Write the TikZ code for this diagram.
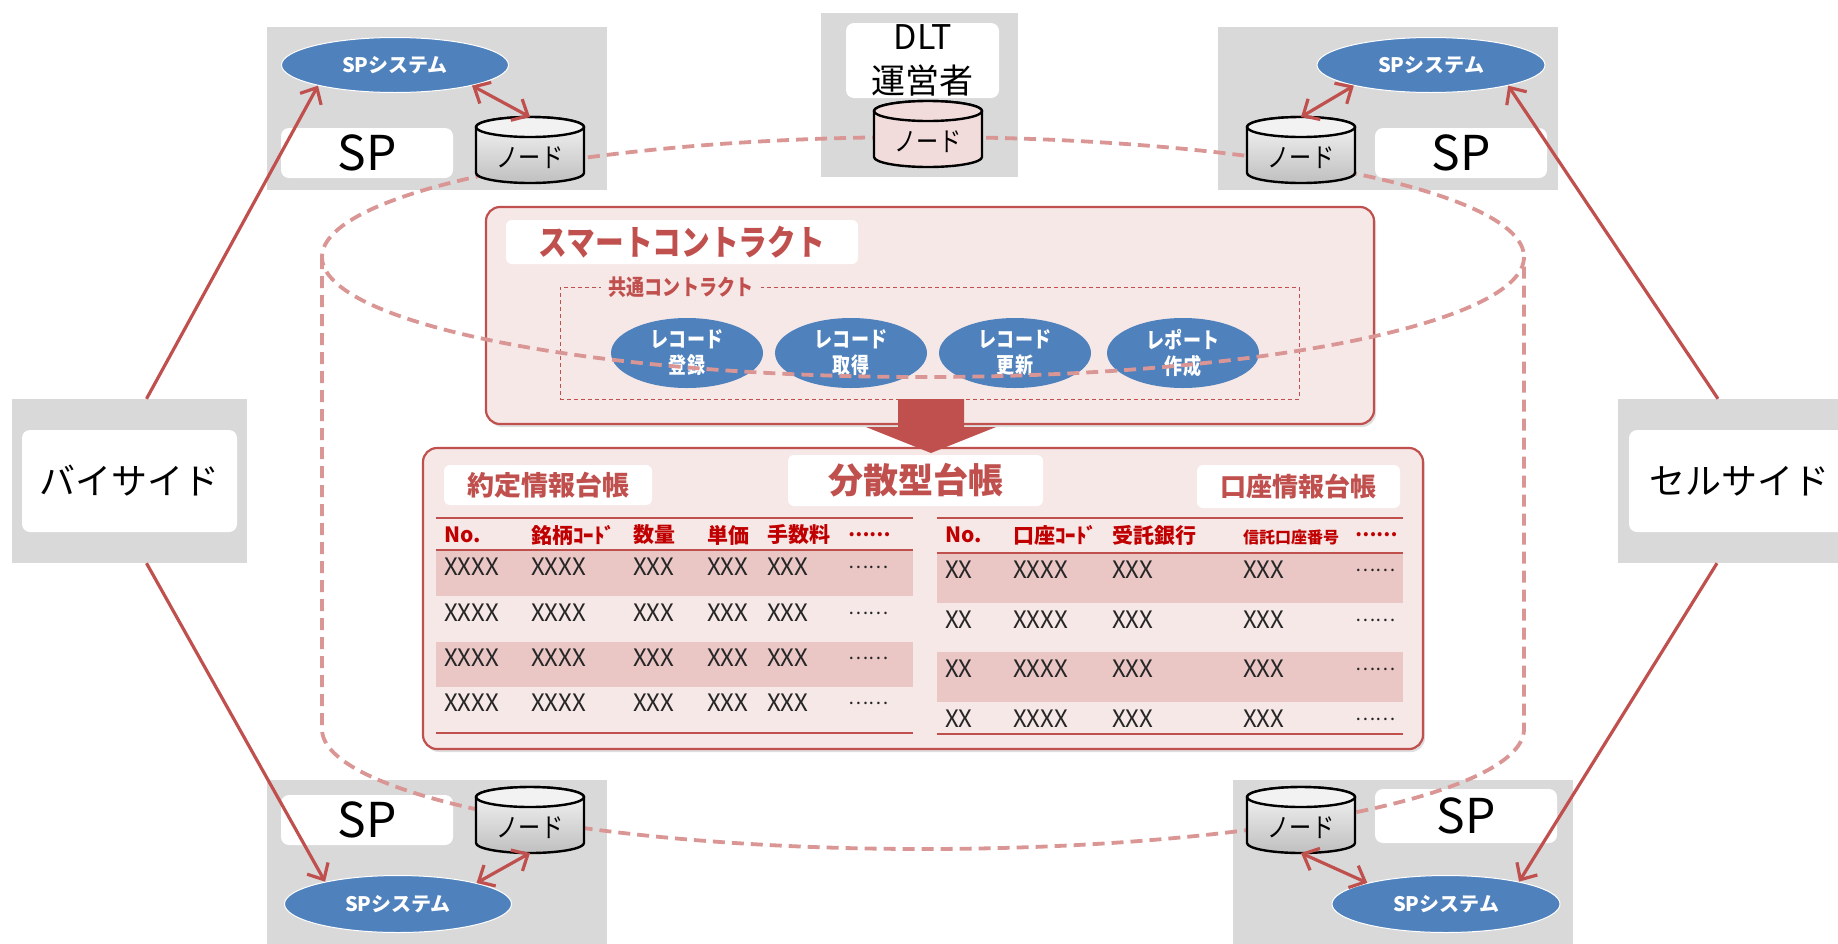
\documentclass[tikz,border=0pt]{standalone}
\usepackage{fontspec}
\setmainfont{Noto Sans CJK JP}
\newfontfamily\cjn{Noto Sans CJK JP}[FakeStretch=0.82]
\usetikzlibrary{arrows.meta,shapes.geometric,shadows}
\definecolor{redA}{HTML}{C0504D}
\definecolor{redH}{HTML}{C00000}
\definecolor{dashc}{HTML}{D99694}
\definecolor{blueA}{HTML}{4F81BD}
\definecolor{grayA}{HTML}{D9D9D9}
\definecolor{pinkbg}{HTML}{F7E8E8}
\definecolor{pinkrow}{HTML}{EAC6C5}
\definecolor{pinknode}{HTML}{F2DCDB}
\newcommand\fsz[2]{\fontsize{#1pt}{#2pt}\selectfont}
% name, cx, top, body style, top face colour, text node name
\newcommand\dbcyl[6]{%
  \path[#4,draw=black,line width=2.4pt] (#2-54,#3+10) -- (#2-54,#3+56)
     arc[start angle=180,end angle=0,x radius=54,y radius=10] -- (#2+54,#3+10)
     arc[start angle=0,end angle=-180,x radius=54,y radius=10] -- cycle;
  \path[fill=#5,draw=black,line width=2.4pt] (#2,#3+10) ellipse[x radius=54,y radius=10];
  \node[inner sep=0,outer sep=0,minimum width=108pt,minimum height=66pt] (#1) at (#2,#3+33) {};
  \node[inner sep=0,font=\cjn\fsz{27}{27}] (#6) at (#2,#3+41) {ノード};
}
\begin{document}
\begin{tikzpicture}[x=1pt,y=-1pt,
  graybox/.style={fill=grayA,inner sep=0},
  whitebox/.style={fill=white,rounded corners=8pt,inner sep=0},
  spsys/.style={ellipse,fill=blueA,draw=white,line width=1pt,text=white,font=\bfseries\fsz{20}{20},inner sep=0},
  opell/.style={ellipse,fill=blueA,text=white,font=\cjn\bfseries\fsz{22}{26},align=center,inner sep=0,minimum width=152pt,minimum height=70pt},
  redarrow/.style={draw=redA,line width=3.2pt,-{Straight Barb[length=13pt,width=24pt]}},
  dblarrow/.style={draw=redA,line width=3.2pt,{Straight Barb[length=13pt,width=24pt]}-{Straight Barb[length=13pt,width=24pt]}},
  panel/.style={fill=pinkbg,draw=redA,line width=2.2pt,rounded corners=14pt,inner sep=0,drop shadow={shadow xshift=2pt,shadow yshift=-3pt,opacity=0.25}},
  titlebox/.style={fill=white,rounded corners=6pt,inner sep=0,text=redA},
  hdr/.style={anchor=west,inner sep=0,text=redH,font=\bfseries\fsz{21}{21}},
  cell/.style={anchor=west,inner sep=0,text=black!85,font=\fsz{24}{24}},
  dots/.style={anchor=west,inner sep=0,text=black!85,font=\fsz{19}{19}},
  rule/.style={draw=redA,line width=2.8pt},
  bigdash/.style={draw=dashc,line width=3.8pt,dash pattern=on 12pt off 7pt}
]
\path[use as bounding box] (0,0) rectangle (1838,943);
\clip (0,0) rectangle (1838,943);

% grey participant areas
\node[graybox,minimum width=340pt,minimum height=163pt] (gtl) at (437,108.5) {};
\node[graybox,minimum width=340pt,minimum height=163pt] (gtr) at (1388,108.5) {};
\node[graybox,minimum width=340pt,minimum height=170pt] (gbl) at (437,865) {};
\node[graybox,minimum width=340pt,minimum height=170pt] (gbr) at (1403,865) {};
\node[graybox,minimum width=197pt,minimum height=164pt] (gdlt) at (919.5,95) {};
\node[graybox,minimum width=235pt,minimum height=164pt] (gbuy) at (129.5,481) {};
\node[graybox,minimum width=232pt,minimum height=164pt] (gsell) at (1734,481) {};

% white labels
\node[whitebox,minimum width=172pt,minimum height=50pt,font=\fsz{48}{48}] (sptl) at (367,153) {SP};
\node[whitebox,minimum width=172pt,minimum height=50pt,font=\fsz{48}{48}] (sptr) at (1461,153) {SP};
\node[whitebox,minimum width=172pt,minimum height=50pt,font=\fsz{48}{48}] (spbl) at (367,820) {SP};
\node[whitebox,minimum width=182pt,minimum height=54pt,font=\fsz{48}{48}] (spbr) at (1466,816) {SP};
\node[whitebox,minimum width=153pt,minimum height=75pt,align=center,font=\fsz{34}{44}] (dltbox) at (922.5,60.5) {DLT\\運営者};
\node[whitebox,minimum width=215pt,minimum height=102pt,font=\fsz{36}{36}] (buybox) at (129.5,481) {バイサイド};
\node[whitebox,minimum width=221pt,minimum height=102pt,font=\fsz{36}{36}] (sellbox) at (1739.5,481) {セルサイド};

% SP systems
\node[spsys,minimum width=227pt,minimum height=55pt] (sstl) at (395,65) {SPシステム};
\node[spsys,minimum width=228pt,minimum height=55pt] (sstr) at (1431,65) {SPシステム};
\node[spsys,minimum width=227pt,minimum height=57pt] (ssbl) at (398,904) {SPシステム};
\node[spsys,minimum width=228pt,minimum height=57pt] (ssbr) at (1446,904) {SPシステム};

% buy side / sell side connectors
\draw[redarrow] ([xshift=17pt]gbuy.north) -- (sstl.195);
\draw[redarrow] ([xshift=-16pt]gsell.north) -- (sstr.345);
\draw[redarrow] ([xshift=17pt]gbuy.south) -- (ssbl.163);
\draw[redarrow] ([xshift=-17pt]gsell.south) -- (ssbr.17);

% smart contract panel
\node[panel,minimum width=888pt,minimum height=217pt] (sc) at (930,315.5) {};
\node[titlebox,minimum width=352pt,minimum height=44pt,font=\cjn\bfseries\fsz{35}{35}] (sctitle) at (682,242) {スマートコントラクト};
\node[draw=redA,dash pattern=on 4pt off 3pt,line width=1pt,inner sep=0,minimum width=739pt,minimum height=112pt] (common) at (929.5,343) {};
\node[fill=pinkbg,inner xsep=8pt,inner ysep=0,text=redA,font=\cjn\bfseries\fsz{22}{22}] (commonlbl) at (681,287) {共通コントラクト};
\node[opell] (op1) at (687,353) {レコード\\登録};
\node[opell] (op2) at (851,353) {レコード\\取得};
\node[opell] (op3) at (1015,353) {レコード\\更新};
\node[opell] (op4) at (1183,353) {レポート\\作成};

% ledger panel
\node[panel,minimum width=1000pt,minimum height=301pt] (ledger) at (923,598.5) {};
\node[titlebox,minimum width=255pt,minimum height=51pt,font=\bfseries\fsz{35}{35}] (ledgertitle) at (915.5,480.5) {分散型台帳};
\node[titlebox,minimum width=208pt,minimum height=40pt,font=\bfseries\fsz{27}{27}] (lt1) at (548,485) {約定情報台帳};
\node[titlebox,minimum width=203pt,minimum height=43pt,font=\bfseries\fsz{26}{26}] (lt2) at (1298.5,486.5) {口座情報台帳};

\fill[pinkrow] (436,550) rectangle (913,596);
\fill[pinkrow] (436,642) rectangle (913,687);
\fill[pinkrow] (937,553) rectangle (1403,603);
\fill[pinkrow] (937,652) rectangle (1403,702);
\draw[rule] (436,518) -- (913,518) (436,550) -- (913,550) (436,733) -- (913,733);
\draw[rule] (937,518) -- (1403,518) (937,553) -- (1403,553) (937,734) -- (1403,734);

\node[hdr] (ha1) at (444,535) {No.};
\node[hdr] (ha2) at (531,535) {銘柄ｺｰﾄﾞ};
\node[hdr] (ha3) at (633,535) {数量};
\node[hdr] (ha4) at (707,535) {単価};
\node[hdr] (ha5) at (767,535) {手数料};
\node[hdr,font=\bfseries\fsz{19}{19}] (ha6) at (848,535) {……};
\node[hdr] (hb1) at (945,535) {No.};
\node[hdr] (hb2) at (1013,535) {口座ｺｰﾄﾞ};
\node[hdr] (hb3) at (1112,535) {受託銀行};
\node[hdr,font=\bfseries\fsz{16}{16}] (hb4) at (1243,537) {信託口座番号};
\node[hdr,font=\bfseries\fsz{19}{19}] (hb5) at (1355,535) {……};

\foreach \yy [count=\r] in {567,613,658,703} {
  \node[cell] (a\r c1) at (444,\yy) {XXXX};
  \node[cell] (a\r c2) at (531,\yy) {XXXX};
  \node[cell] (a\r c3) at (633,\yy) {XXX};
  \node[cell] (a\r c4) at (707,\yy) {XXX};
  \node[cell] (a\r c5) at (767,\yy) {XXX};
  \node[dots] (a\r c6) at (848,\yy) {……};
}
\foreach \yy [count=\r] in {570,620,669,719} {
  \node[cell] (b\r c1) at (945,\yy) {XX};
  \node[cell] (b\r c2) at (1013,\yy) {XXXX};
  \node[cell] (b\r c3) at (1112,\yy) {XXX};
  \node[cell] (b\r c4) at (1243,\yy) {XXX};
  \node[dots] (b\r c5) at (1355,\yy) {……};
}

% block arrow from contract to ledger
\fill[redA] (898,399) -- (964,399) -- (964,427) -- (996,427) -- (931,453) -- (866,427) -- (898,427) -- cycle;

% dashed DLT network cylinder
\draw[bigdash] (923,257) ellipse[x radius=601,y radius=120];
\draw[bigdash] (322,257) -- (322,729) arc[start angle=180,end angle=0,x radius=601,y radius=120] -- (1524,257);

% nodes
\dbcyl{ndtl}{530}{117}{top color=gray!6,bottom color=gray!50}{gray!10}{ndtltxt}
\dbcyl{ndtr}{1301}{117}{top color=gray!6,bottom color=gray!50}{gray!10}{ndtrtxt}
\dbcyl{ndbl}{530}{787}{top color=gray!6,bottom color=gray!50}{gray!10}{ndbltxt}
\dbcyl{ndbr}{1301}{787}{top color=gray!6,bottom color=gray!50}{gray!10}{ndbrtxt}
\dbcyl{nddlt}{928}{101}{fill=pinknode}{pinknode}{nddlttxt}

% node <-> SP system
\draw[dblarrow] (sstl.345) -- (ndtl.north);
\draw[dblarrow] (sstr.195) -- (ndtr.north);
\draw[dblarrow] (ndbl.south) -- (ssbl.15);
\draw[dblarrow] (ndbr.south) -- (ssbr.165);
\end{tikzpicture}
\end{document}
